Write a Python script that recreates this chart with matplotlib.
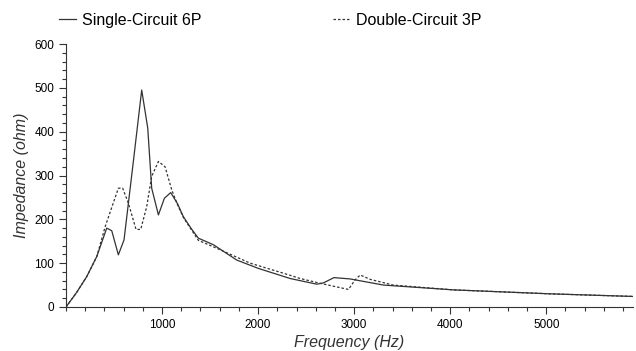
import numpy as np
import matplotlib.pyplot as plt
from matplotlib.ticker import MultipleLocator

plt.rcParams['font.family'] = ['Liberation Sans', 'DejaVu Sans']

# Single-Circuit 6P impedance curve
f_single = [0, 110, 215, 320, 424, 476, 545, 604, 700, 788, 851, 892, 962, 1024,
            1090, 1160, 1222, 1300, 1378, 1535, 1778, 2003, 2333, 2611, 2680, 2790, 2958,
            3305, 4035, 5042, 5910]
z_single = [0, 33, 69, 115, 180, 174, 119, 153, 330, 495, 408, 271, 210, 248,
            261, 236, 206, 180, 157, 142, 107, 88, 65, 52, 55, 67, 64,
            50, 39, 30, 24]

# Double-Circuit 3P impedance curve
f_double = [0, 110, 215, 320, 410, 545, 590, 649, 729, 778, 840, 892, 962, 1031,
            1101, 1160, 1222, 1378, 1569, 1917, 2264, 2438, 2646, 2941, 3010, 3063,
            3167, 3406, 4035, 5042, 5910]
z_double = [0, 33, 69, 115, 185, 271, 271, 237, 177, 177, 229, 298, 332, 320,
            267, 234, 204, 152, 134, 100, 77, 65, 54, 40, 62, 73,
            63, 50, 39, 30, 24]

fig = plt.figure(figsize=(6.36, 3.51), dpi=100)
ax = fig.add_axes([0.1038, 0.1254, 0.891, 0.7492])

ax.plot(f_single, z_single, color='#333333', lw=0.9, linestyle='-', label='Single-Circuit 6P')
ax.plot(f_double, z_double, color='#333333', lw=0.9, linestyle=(0, (2, 1.6)), label='Double-Circuit 3P')

ax.set_xlim(0, 5900)
ax.set_ylim(0, 600)
ax.xaxis.set_major_locator(MultipleLocator(1000))
ax.xaxis.set_minor_locator(MultipleLocator(200))
ax.yaxis.set_major_locator(MultipleLocator(100))
ax.yaxis.set_minor_locator(MultipleLocator(20))
ax.set_xticks([1000, 2000, 3000, 4000, 5000])
ax.tick_params(which='major', direction='out', length=5, width=0.8, labelsize=8.5, color='#333333')
ax.tick_params(which='minor', direction='out', length=3, width=0.8, color='#333333')
for s in ['top', 'right']:
    ax.spines[s].set_visible(False)
for s in ['left', 'bottom']:
    ax.spines[s].set_color('#333333')
    ax.spines[s].set_linewidth(0.8)

ax.set_xlabel('Frequency (Hz)', fontsize=11.5, style='italic', color='#333333', labelpad=3)
ax.set_ylabel('Impedance (ohm)', fontsize=11.5, style='italic', color='#333333', labelpad=4)

fig.legend(loc='upper left', bbox_to_anchor=(0.07, 1.005), ncol=2, frameon=False,
           fontsize=11.5, handlelength=1.1, handletextpad=0.35, columnspacing=8.2)

fig.savefig('out.png', dpi=100)
